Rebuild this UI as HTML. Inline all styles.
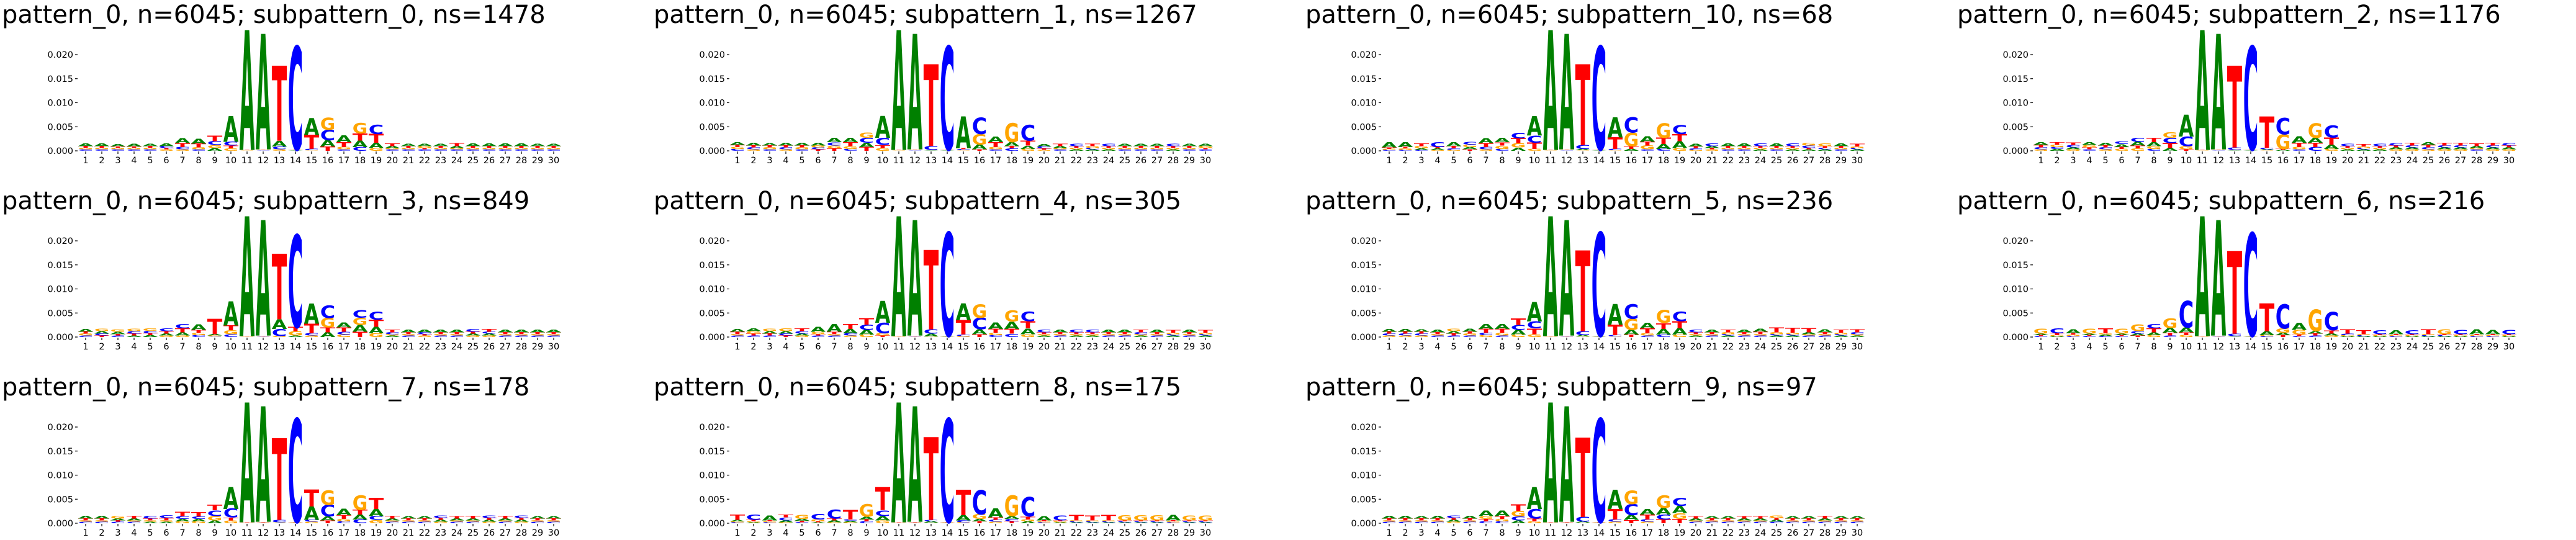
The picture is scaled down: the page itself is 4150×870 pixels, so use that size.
<!DOCTYPE html>
<html><head><meta charset="utf-8">
<style>
html,body{margin:0;padding:0;background:#fff;}
svg{display:block;}
</style></head>
<body>
<svg id="fig" width="4150" height="870" viewBox="0 0 4150 870" xmlns="http://www.w3.org/2000/svg"></svg>
<script>
// Panel titles
const titles = [
 "pattern_0, n=6045; subpattern_0, ns=1478",
 "pattern_0, n=6045; subpattern_1, ns=1267",
 "pattern_0, n=6045; subpattern_10, ns=68",
 "pattern_0, n=6045; subpattern_2, ns=1176",
 "pattern_0, n=6045; subpattern_3, ns=849",
 "pattern_0, n=6045; subpattern_4, ns=305",
 "pattern_0, n=6045; subpattern_5, ns=236",
 "pattern_0, n=6045; subpattern_6, ns=216",
 "pattern_0, n=6045; subpattern_7, ns=178",
 "pattern_0, n=6045; subpattern_8, ns=175",
 "pattern_0, n=6045; subpattern_9, ns=97"
];
// Letter order for each quad
const letters = ["A","C","G","T"];
const letterColors = ["#008000","#0000ff","#ffa500","#ff0000"];
// Y tick values and labels
const yTicks = [0, 0.005, 0.010, 0.015, 0.020];
const yTickLabels = ["0.000","0.005","0.010","0.015","0.020"];
// X positions
const positions = [1,2,3,4,5,6,7,8,9,10,11,12,13,14,15,16,17,18,19,20,21,22,23,24,25,26,27,28,29,30];
// Heights in units of 0.001, per panel, per position: [A, C, G, T]
const heights = [
 [[.6,.3,.3,.4],[.6,.3,.3,.4],[.5,.3,.3,.3],[.6,.3,.3,.3],[.5,.3,.3,.4],[.6,.4,.3,.3],[1.0,.5,.3,.8],[1.0,.3,.4,.8],[.6,.8,.6,1.2],[5.4,.8,.5,.6],[24.9,0,.1,.1],[24,.1,.1,.1],[1.2,.6,.3,15.6],[.1,21.4,.1,.1],[3.5,.3,.1,2.9],[1.3,2.2,2.5,.9],[1.4,.3,.5,1.0],[1.3,.8,2.2,1.5],[1.1,1.9,.6,1.8],[.4,.3,.3,.6],[.5,.3,.3,.4],[.5,.3,.4,.3],[.5,.3,.3,.4],[.4,.3,.3,.7],[.6,.3,.3,.4],[.6,.3,.3,.4],[.6,.3,.3,.4],[.6,.3,.3,.4],[.5,.3,.3,.4],[.5,.3,.3,.4]],
 [[.6,.4,.4,.4],[.6,.4,.3,.4],[.5,.3,.4,.4],[.6,.4,.3,.4],[.6,.3,.4,.4],[.6,.4,.4,.3],[.9,.7,.6,.5],[.9,.4,.6,.8],[.9,1.0,1.1,.8],[4.5,1.5,.6,.6],[24.9,0,.1,.1],[24,.1,.1,.1],[.1,.8,.1,17.0],[.1,21.4,.1,.1],[6.6,.2,.1,.2],[1.0,3.4,2.2,.3],[1.2,.3,.5,1.0],[.8,.5,3.9,.5],[.7,3.3,.4,1.0],[.5,.4,.2,.3],[.4,.3,.3,.5],[.3,.5,.3,.4],[.3,.3,.4,.5],[.3,.5,.3,.4],[.5,.3,.3,.4],[.5,.3,.3,.4],[.5,.3,.3,.4],[.3,.5,.3,.4],[.5,.3,.3,.4],[.5,.3,.4,.3]],
 [[1.1,.2,.2,.3],[1.0,.2,.3,.3],[.3,.2,.5,.6],[.3,1.0,.2,.3],[.8,.3,.2,.5],[.5,.6,.5,.3],[1.0,.5,.3,.8],[.9,.4,.7,.7],[.7,1.2,.9,1.0],[4.0,1.5,.4,1.3],[24.9,0,.1,.1],[24,.1,.1,.1],[.3,.8,.1,16.8],[.1,21.4,.1,.1],[4.2,.3,.1,2.4],[.4,3.2,2.8,.6],[1.2,.3,.8,.8],[1.0,.4,3.0,1.3],[1.4,1.8,.6,1.5],[.6,.3,.2,.4],[.4,.6,.3,.3],[.6,.3,.3,.4],[.6,.3,.3,.4],[.3,.6,.3,.4],[.6,.3,.3,.4],[.3,.6,.3,.4],[.3,.5,.6,.3],[.3,.3,.6,.4],[.6,.3,.3,.4],[.3,.3,.3,.6]],
 [[.6,.4,.3,.5],[.4,.4,.5,.5],[.4,.5,.3,.5],[.6,.3,.5,.4],[.6,.4,.3,.4],[.6,.6,.4,.4],[.8,.8,.5,.6],[.8,.4,.6,.9],[.6,1.1,1.2,1.0],[4.5,2.0,.7,.3],[24.9,0,.1,.1],[24,.1,.1,.1],[.1,.5,.1,17.0],[.1,21.4,.1,.1],[.2,.3,.1,6.5],[.2,3.4,3.0,.2],[1.3,.3,.5,.9],[1.0,.8,3.0,.9],[.9,2.5,.4,1.5],[.3,.5,.3,.4],[.3,.3,.3,.5],[.3,.5,.3,.4],[.4,.5,.3,.4],[.4,.4,.3,.6],[.6,.4,.3,.5],[.4,.4,.3,.6],[.4,.4,.3,.6],[.4,.3,.3,.6],[.4,.4,.3,.6],[.4,.5,.3,.4]],
 [[.6,.3,.4,.4],[.5,.4,.5,.3],[.5,.3,.5,.3],[.3,.5,.5,.4],[.4,.5,.5,.4],[.4,.6,.3,.5],[.7,.9,.3,.8],[1.2,.4,.5,.6],[.3,.1,.2,3.2],[5.0,.6,.8,1.0],[24.9,0,.1,.1],[24,.1,.1,.1],[2.0,1.5,.2,13.6],[.3,19.1,.9,.9],[4.2,.5,.3,2.0],[1.0,2.6,2.0,1.0],[1.0,.6,.5,.9],[1.4,1.6,1.5,1.1],[1.3,1.7,.8,1.5],[.3,.4,.3,.6],[.6,.3,.3,.4],[.6,.4,.3,.3],[.6,.3,.3,.4],[.6,.3,.3,.4],[.4,.6,.3,.4],[.4,.4,.3,.6],[.6,.3,.3,.4],[.6,.3,.3,.4],[.6,.3,.3,.4],[.6,.3,.3,.4]],
 [[.6,.3,.3,.5],[.6,.3,.5,.4],[.5,.3,.5,.4],[.5,.4,.6,.3],[.4,.5,.3,.6],[1.0,.3,.5,.3],[1.6,.3,.3,.5],[.9,.5,.3,1.0],[1.0,1.1,.5,1.3],[4.5,2.2,.5,.3],[24.9,0,.1,.1],[24,.1,.1,.1],[.6,.9,.1,16.5],[.1,21.4,.1,.1],[3.5,.3,.2,3.0],[1.0,2.4,2.8,.6],[1.3,.4,.5,.8],[1.5,.7,2.3,1.0],[1.2,2.0,.6,1.5],[.3,.6,.3,.4],[.6,.3,.3,.4],[.3,.6,.3,.4],[.3,.6,.3,.4],[.6,.3,.3,.4],[.6,.3,.3,.4],[.3,.4,.3,.6],[.6,.3,.3,.4],[.3,.3,.3,.6],[.6,.3,.3,.4],[.3,.3,.3,.6]],
 [[.6,.4,.3,.4],[.6,.4,.3,.4],[.5,.4,.3,.4],[.6,.3,.3,.4],[.5,.3,.5,.4],[.7,.3,.4,.4],[1.0,.5,.4,.8],[1.0,.3,.6,.8],[1.0,1.0,.5,1.3],[4.0,1.5,.6,1.2],[24.9,0,.1,.1],[24,.1,.1,.1],[.3,.8,.1,16.8],[.1,21.4,.1,.1],[4.3,.3,.1,2.2],[1.0,3.0,2.3,.5],[1.2,.3,.5,1.0],[1.2,.5,2.7,1.2],[1.3,2.0,.5,1.5],[.3,.6,.3,.4],[.6,.3,.3,.4],[.3,.3,.4,.6],[.6,.3,.3,.4],[.7,.3,.3,.5],[.3,.3,.4,1.0],[.3,.3,.3,1.0],[.4,.3,.3,.9],[.7,.3,.3,.4],[.3,.3,.3,.7],[.3,.4,.3,.7]],
 [[.3,.2,1.0,.2],[.2,1.0,.2,.4],[.8,.2,.3,.3],[.3,.2,1.0,.2],[.3,.2,.3,1.0],[.3,.2,1.0,.2],[.4,.5,1.4,.3],[.6,.9,.4,.8],[1.0,.3,2.0,.6],[1.0,5.5,.4,.6],[24.9,0,.1,.1],[24,.1,.1,.1],[.1,.5,.1,17.2],[.1,21.3,.1,.1],[.8,.2,.2,5.8],[.5,5.0,.9,.4],[1.5,.2,1.0,.3],[.5,.3,4.4,.4],[.4,3.8,.3,.7],[.2,.3,.2,.9],[.2,.2,.2,.8],[.2,.8,.2,.2],[.8,.2,.2,.2],[.2,.8,.2,.2],[.2,.2,.2,1.0],[.2,.2,1.0,.2],[.2,.9,.2,.2],[1.0,.2,.2,.2],[.9,.2,.2,.2],[.2,.9,.2,.2]],
 [[.6,.3,.3,.4],[.6,.3,.3,.4],[.4,.3,.6,.3],[.4,.3,.3,.6],[.3,.6,.3,.4],[.3,.6,.3,.5],[.5,.6,.4,.9],[.5,.5,.4,.9],[.6,1.2,.9,1.2],[4.5,1.8,.6,.6],[24.9,0,.1,.1],[24,.1,.1,.1],[.1,.5,.1,17.0],[.1,21.4,.1,.1],[2.8,.4,.3,3.5],[.8,2.4,3.0,.6],[1.3,.4,.5,.8],[1.0,.8,3.0,1.0],[1.5,.8,.7,2.3],[.4,.3,.3,.6],[.5,.3,.3,.4],[.5,.3,.3,.4],[.4,.5,.3,.4],[.4,.3,.3,.5],[.4,.3,.3,.6],[.4,.5,.3,.4],[.4,.3,.3,.6],[.4,.5,.3,.4],[.5,.3,.3,.4],[.5,.3,.3,.4]],
 [[.3,.2,.2,1.1],[.2,1.1,.2,.3],[1.0,.2,.2,.2],[.4,.6,.2,.6],[.4,.2,.8,.3],[.2,1.2,.4,.2],[.4,1.8,.2,.4],[.3,.3,.2,2.0],[.6,.4,2.6,.4],[.9,1.2,.6,4.8],[24.9,0,.1,.1],[24,.1,.1,.1],[.3,.3,.1,17.2],[.1,21.4,.1,.1],[1.1,.4,.2,5.3],[.5,5.0,1.0,.4],[1.8,.4,.3,.5],[.6,.5,4.3,.4],[.4,4.0,.4,.6],[.9,.2,.2,.2],[.2,1.0,.2,.2],[.2,.2,.2,1.2],[.2,.2,.2,1.0],[.2,.2,.2,1.2],[.2,.2,1.1,.2],[.2,.2,1.1,.2],[.2,.2,1.1,.2],[1.2,.2,.2,.2],[.2,.2,1.0,.2],[.2,.2,1.0,.2]],
 [[.6,.3,.3,.4],[.6,.3,.3,.4],[.5,.3,.3,.4],[.6,.3,.3,.4],[.4,.5,.3,.4],[.6,.3,.3,.4],[1.2,.4,.6,.5],[1.2,.4,.5,.6],[.6,.8,1.2,1.3],[4.5,2.0,.4,.6],[24.9,0,.1,.1],[24,.1,.1,.1],[.2,1.0,.1,16.5],[.1,21.4,.1,.1],[4.0,.5,.3,2.2],[1.0,2.3,2.8,.7],[1.2,.5,.3,1.0],[1.4,1.0,2.6,.8],[1.5,1.7,1.2,.9],[.4,.3,.3,.5],[.5,.3,.3,.4],[.5,.3,.3,.4],[.4,.3,.3,.5],[.4,.3,.3,.5],[.4,.3,.5,.4],[.5,.3,.3,.4],[.5,.3,.3,.4],[.4,.3,.3,.6],[.5,.3,.3,.4],[.5,.3,.3,.4]]
];

const NS = "http://www.w3.org/2000/svg";
const svg = document.getElementById("fig");
const COLW = 1050, ROWH = 300;
const PXPERUNIT = 7750; // px per 1.0 of value
function yScale(v, oy){ return oy + 243 - v * PXPERUNIT; }
function xScale(p, ox){ return ox + 138 + (p - 1) * 26.0; }
function mk(tag, attrs){ const e = document.createElementNS(NS, tag); for (const k in attrs) e.setAttribute(k, attrs[k]); return e; }

titles.forEach((title, i) => {
  const row = Math.floor(i / 4), col = i % 4;
  const ox = col * COLW, oy = row * ROWH;
  const g = mk("g", {});
  
  
  svg.appendChild(g);

  const t = mk("text", {x: ox + 3, y: oy + 37, "font-family": "DejaVu Sans, Liberation Sans, sans-serif", "font-size": 40, fill: "#000"});
  t.textContent = title;
  
  
  g.appendChild(t);

  yTicks.forEach((v, k) => {
    const y = yScale(v, oy);
    const tk = mk("line", {x1: ox + 121, x2: ox + 125, y1: y, y2: y, stroke: "#000", "stroke-width": 1.2});
    
    
    g.appendChild(tk);
    const lb = mk("text", {x: ox + 118, y: y + 5, "text-anchor": "end", "font-family": "DejaVu Sans, sans-serif", "font-size": 14.5, fill: "#000"});
    lb.textContent = yTickLabels[k];
    
    
    g.appendChild(lb);
  });

  positions.forEach((p, j) => {
    const x = xScale(p, ox);
    const tk = mk("line", {x1: x, x2: x, y1: oy + 244, y2: oy + 248, stroke: "#000", "stroke-width": 1.2});
    
    
    g.appendChild(tk);
    const lb = mk("text", {x: x, y: oy + 263, "text-anchor": "middle", "font-family": "DejaVu Sans, sans-serif", "font-size": 14.5, fill: "#000"});
    lb.textContent = String(p);
    
    
    g.appendChild(lb);

    const quad = heights[i][j];
    const order = [0,1,2,3].sort((a, b) => quad[a] - quad[b]);
    let base = 0;
    order.forEach(li => {
      const v = quad[li] * 0.001;
      if (v <= 0) return;
      const yb = yScale(base, oy), yt = yScale(base + v, oy);
      const h = yb - yt;
      const w = 24.5;
      const lt = mk("text", {
        x: 0, y: 0,
        "font-family": "DejaVu Sans, Liberation Sans, sans-serif", "font-weight": "bold",
        "font-size": 100, fill: letterColors[li],
        textLength: w, lengthAdjust: "spacingAndGlyphs",
        transform: "translate(" + (x - w / 2) + "," + yb + ") scale(1," + (h / 72.9) + ")"
      });
      lt.textContent = letters[li];
      
      
      g.appendChild(lt);
      base += v;
    });
  });
});
</script>
</body></html>
